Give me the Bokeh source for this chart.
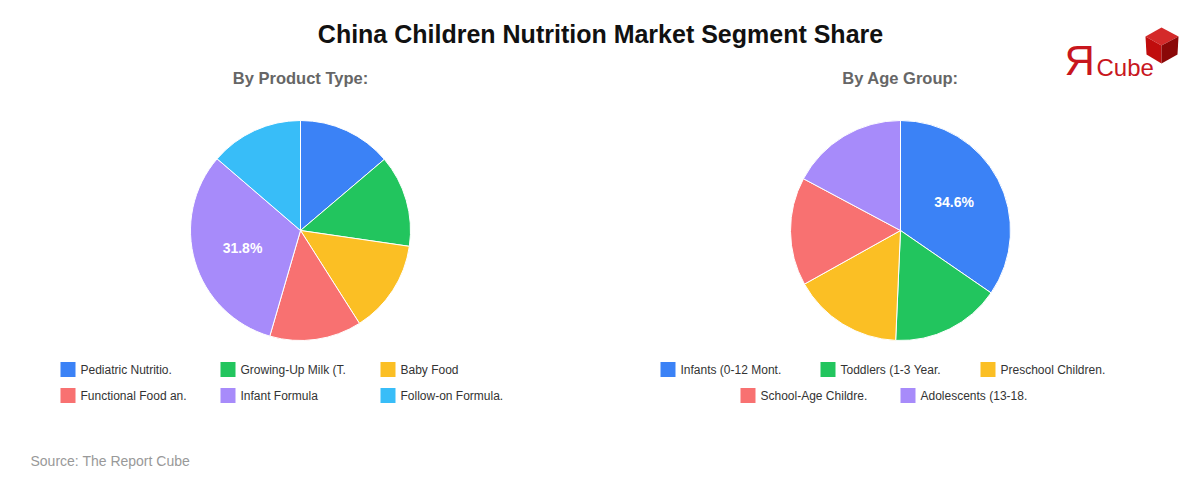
import numpy as np
from bokeh.plotting import figure
from bokeh.models import Range1d
from bokeh.core.properties import value
from bokeh.embed import file_html
from bokeh.resources import INLINE

W, H = 1200, 480
FONT = "Liberation Sans"

# Segment data
product_types = ["Pediatric Nutritio.", "Growing-Up Milk (T.", "Baby Food",
                 "Functional Food an.", "Infant Formula", "Follow-on Formula."]
product_share = [13.8, 13.5, 13.7, 13.5, 31.8, 13.7]

age_groups = ["Infants (0-12 Mont.", "Toddlers (1-3 Year.", "Preschool Children.",
              "School-Age Childre.", "Adolescents (13-18."]
age_share = [34.6, 16.1, 16.2, 15.9, 17.2]

palette = ["#3b82f6", "#22c55e", "#fbbf24", "#f87171", "#a78bfa", "#38bdf8"]


def sy(py):
    """Convert a top-down pixel row into the figure's y coordinate."""
    return H - py


p = figure(width=W, height=H, x_range=Range1d(0, W), y_range=Range1d(0, H),
           output_backend="svg", toolbar_location=None, min_border=0,
           x_axis_type=None, y_axis_type=None)
p.grid.visible = False
p.outline_line_color = None
p.background_fill_color = "white"
p.border_fill_color = "white"


def txt(x, y, s, size, color, bold=False, align="left", baseline="middle"):
    p.text(x=[x], y=[y], text=[s], text_font=value(FONT), text_font_size=size,
           text_color=color, text_font_style="bold" if bold else "normal",
           text_align=align, text_baseline=baseline)


def pie(cx, cy, r, labels, values, subtitle):
    vals = np.array(values, dtype=float)
    frac = vals / vals.sum()
    cum = np.concatenate([[0.0], np.cumsum(frac)])
    start = np.pi / 2 - cum[1:] * 2 * np.pi
    end = np.pi / 2 - cum[:-1] * 2 * np.pi
    colors = palette[:len(vals)]
    p.wedge(x=cx, y=sy(cy), radius=r, start_angle=start, end_angle=end,
            fill_color=colors, line_color="white", line_width=1)

    # percentage label on the dominant slices
    for v, s, e in zip(vals, start, end):
        if v > 30:
            mid = (s + e) / 2
            lx = cx + 0.55 * r * np.cos(mid)
            ly = sy(cy) + 0.55 * r * np.sin(mid)
            txt(lx, ly, f"{v:.1f}%", "14px", "white", bold=True, align="center")

    txt(cx, sy(77), subtitle, "16.5px", "#666666", bold=True, align="center")

    # legend: rows of three, centred under the pie
    per_row, col_w = 3, 160
    for row in range(0, len(labels), per_row):
        items = list(range(row, min(row + per_row, len(labels))))
        x0 = cx - len(items) * col_w / 2
        y = sy(369 + 26 * (row // per_row))
        for j, i in enumerate(items):
            lx = x0 + j * col_w
            p.rect(x=[lx + 7.5], y=[y], width=15, height=15,
                   fill_color=palette[i], line_color=None)
            txt(lx + 20, y, labels[i], "12px", "#333333")


pie(300, 230, 110, product_types, product_share, "By Product Type:")
pie(900, 230, 110, age_groups, age_share, "By Age Group:")

# Title and source
txt(600, sy(33), "China Children Nutrition Market Segment Share", "25px", "#111111",
    bold=True, align="center")
txt(30, sy(460), "Source: The Report Cube", "14px", "#999999")

# Logo
txt(1064, sy(60), "Я", "42px", "#c8161d")
txt(1096, sy(66.5), "Cube", "24px", "#c8161d")
top = (1161, 27); left = (1145, 36); right = (1178, 36); ctr = (1161, 45)
bl = (1146, 54); bot = (1161, 63); br = (1177, 54)
faces = [[top, right, ctr, left], [left, ctr, bot, bl], [ctr, right, br, bot]]
p.patches(xs=[[q[0] for q in f] for f in faces],
          ys=[[sy(q[1]) for q in f] for f in faces],
          fill_color=["#d42a2a", "#c00d0d", "#8a0808"], line_color=None)

open("out.html", "w").write(file_html(p, INLINE))
